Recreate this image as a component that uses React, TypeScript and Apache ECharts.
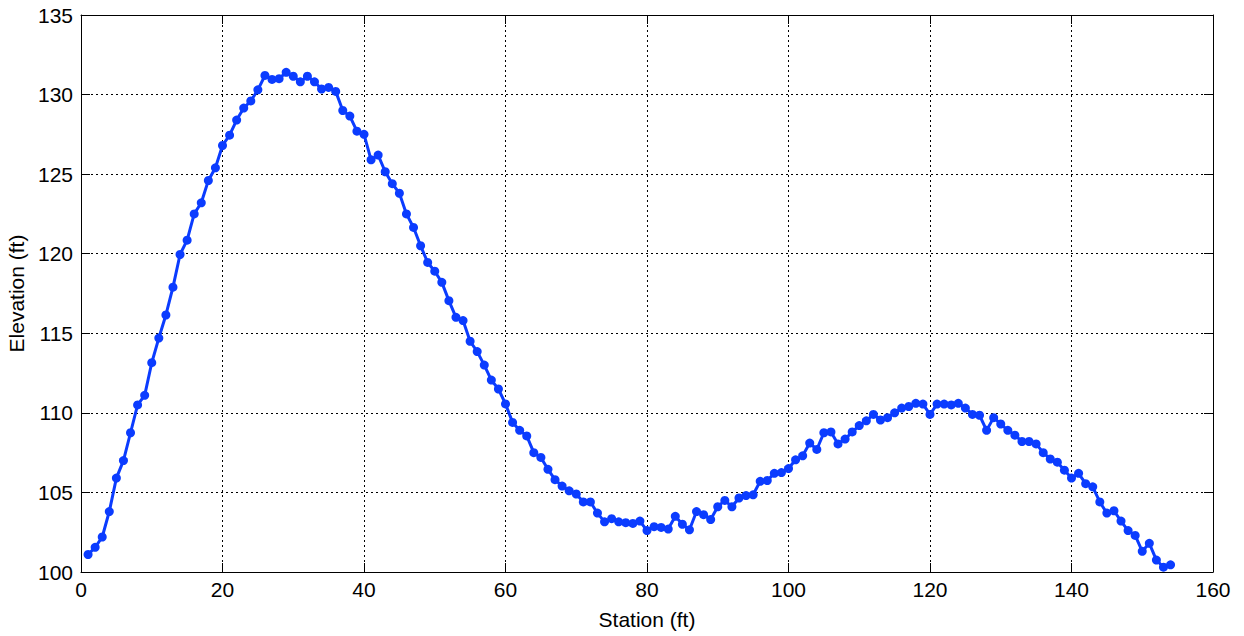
import React, { useEffect, useRef } from "react";
import * as echarts from "echarts";

const stations: number[] = [
  1, 2, 3, 4, 5, 6, 7, 8, 9, 10, 11, 12, 13, 14, 15, 16, 17, 18, 19, 20,
  21, 22, 23, 24, 25, 26, 27, 28, 29, 30, 31, 32, 33, 34, 35, 36, 37, 38, 39, 40,
  41, 42, 43, 44, 45, 46, 47, 48, 49, 50, 51, 52, 53, 54, 55, 56, 57, 58, 59, 60,
  61, 62, 63, 64, 65, 66, 67, 68, 69, 70, 71, 72, 73, 74, 75, 76, 77, 78, 79, 80,
  81, 82, 83, 84, 85, 86, 87, 88, 89, 90, 91, 92, 93, 94, 95, 96, 97, 98, 99, 100,
  101, 102, 103, 104, 105, 106, 107, 108, 109, 110, 111, 112, 113, 114, 115, 116, 117, 118, 119, 120,
  121, 122, 123, 124, 125, 126, 127, 128, 129, 130, 131, 132, 133, 134, 135, 136, 137, 138, 139, 140,
  141, 142, 143, 144, 145, 146, 147, 148, 149, 150, 151, 152, 153, 154,
];

const elevations: number[] = [
  101.1, 101.55, 102.2, 103.8, 105.9, 107.0, 108.75, 110.5, 111.1, 113.15,
  114.7, 116.15, 117.9, 119.95, 120.85, 122.5, 123.2, 124.6, 125.4, 126.8,
  127.45, 128.4, 129.15, 129.6, 130.3, 131.2, 130.95, 131.0, 131.4, 131.15,
  130.8, 131.15, 130.8, 130.35, 130.45, 130.2, 129.0, 128.65, 127.7, 127.5,
  125.9, 126.2, 125.15, 124.4, 123.8, 122.5, 121.65, 120.5, 119.45, 118.9,
  118.2, 117.05, 116.0, 115.8, 114.5, 113.85, 113.0, 112.06, 111.5, 110.56,
  109.4, 108.9, 108.55, 107.5, 107.2, 106.45, 105.8, 105.4, 105.1, 104.9,
  104.4, 104.4, 103.7, 103.15, 103.35, 103.15, 103.1, 103.05, 103.2, 102.6,
  102.85, 102.8, 102.7, 103.5, 103.0, 102.65, 103.8, 103.6, 103.3, 104.1,
  104.5, 104.1, 104.65, 104.8, 104.85, 105.7, 105.75, 106.2, 106.25, 106.5,
  107.05, 107.3, 108.1, 107.7, 108.75, 108.8, 108.05, 108.35, 108.8, 109.2,
  109.5, 109.9, 109.55, 109.7, 110.0, 110.3, 110.4, 110.6, 110.55, 109.9,
  110.55, 110.55, 110.5, 110.6, 110.3, 109.9, 109.85, 108.9, 109.7, 109.3,
  108.9, 108.6, 108.2, 108.2, 108.05, 107.5, 107.1, 106.9, 106.4, 105.9,
  106.2, 105.55, 105.35, 104.4, 103.7, 103.85, 103.2, 102.6, 102.3, 101.3,
  101.8, 100.75, 100.3, 100.45,
];

const xTitle = "Station (ft)";
const yTitle = "Elevation (ft)";

export default function App() {
  const ref = useRef<HTMLDivElement>(null);
  useEffect(() => {
    if (!ref.current) return;
    const chart = echarts.init(ref.current, null, { renderer: "svg" });
    const font = "Liberation Sans, Arial, Helvetica, sans-serif";
    const tickLabel = { color: "#000", fontSize: 21, fontFamily: font };
    const split = { show: true, lineStyle: { color: "#000", type: [2, 3] as any, width: 1 } };
    const line = { show: true, onZero: false, lineStyle: { color: "#000", width: 1 } };
    const tick = { show: true, inside: true, length: 9, lineStyle: { color: "#000", width: 1 } };
    chart.setOption({
      animation: false,
      backgroundColor: "#fff",
      grid: { left: 81, right: 31, top: 15, bottom: 64, containLabel: false, outerBoundsMode: "none" },
      xAxis: [
        {
          type: "value",
          min: 0,
          max: 160,
          interval: 20,
          name: xTitle,
          nameLocation: "middle",
          nameGap: 37,
          nameTextStyle: { color: "#000", fontSize: 21, fontFamily: font },
          axisLine: line,
          axisTick: tick,
          axisLabel: { ...tickLabel, margin: 7 },
          splitLine: split,
        },
        {
          type: "value",
          position: "top",
          min: 0,
          max: 160,
          interval: 20,
          axisLine: line,
          axisTick: tick,
          axisLabel: { show: false },
          splitLine: { show: false },
        },
      ],
      yAxis: [
        {
          type: "value",
          min: 100,
          max: 135,
          interval: 5,
          name: yTitle,
          nameLocation: "middle",
          nameGap: 49,
          nameTextStyle: { color: "#000", fontSize: 21, fontFamily: font },
          axisLine: line,
          axisTick: tick,
          axisLabel: { ...tickLabel, margin: 8 },
          splitLine: split,
        },
        {
          type: "value",
          position: "right",
          min: 100,
          max: 135,
          interval: 5,
          axisLine: line,
          axisTick: tick,
          axisLabel: { show: false },
          splitLine: { show: false },
        },
      ],
      series: [
        {
          type: "line",
          data: stations.map((s, i) => [s, elevations[i]]),
          symbol: "circle",
          symbolSize: 9,
          showSymbol: true,
          lineStyle: { color: "#0b3cff", width: 3 },
          itemStyle: { color: "#0b3cff" },
        },
      ],
    });
    return () => chart.dispose();
  }, []);
  return <div ref={ref} style={{ width: 1244, height: 636, position: "absolute", left: 0, top: 0 }} />;
}
